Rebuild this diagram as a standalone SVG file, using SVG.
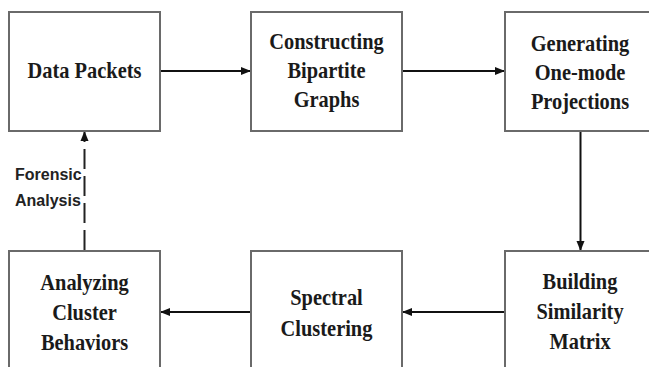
<svg xmlns="http://www.w3.org/2000/svg" width="649" height="367" viewBox="0 0 649 367">
<defs>
<style>
.box{fill:#fff;stroke:#6a6a6a;stroke-width:2}
.lbl{font-weight:bold;font-size:24px;fill:#1a1a1a;text-anchor:middle}
.conn{stroke:#111;stroke-width:2;fill:none}
.dash{stroke:#222;stroke-width:2;fill:none;stroke-dasharray:20,7}
.side{font-weight:bold;font-size:16px;fill:#222}
</style>
<marker id="ah" markerWidth="10" markerHeight="10" refX="9" refY="5" orient="auto" markerUnits="userSpaceOnUse">
<path d="M0,1 L10,5 L0,9 Z" fill="#111"/>
</marker>
</defs>
<rect width="649" height="367" fill="#fff"/>
<g id="connectors">
<line class="conn" x1="161" y1="71" x2="250" y2="71" marker-end="url(#ah)"/>
<line class="conn" x1="403" y1="71" x2="504" y2="71" marker-end="url(#ah)"/>
<line class="conn" x1="580.5" y1="132" x2="580.5" y2="250" marker-end="url(#ah)"/>
<line class="conn" x1="504" y1="312" x2="403" y2="312" marker-end="url(#ah)"/>
<line class="conn" x1="250" y1="312" x2="161" y2="312" marker-end="url(#ah)"/>
<line class="dash" x1="84.5" y1="250" x2="84.5" y2="132" marker-end="url(#ah)"/>
</g>
<g id="forensic-label" font-family="Liberation Sans">
<text class="side" x="15" y="180">Forensic</text>
<text class="side" x="15" y="206">Analysis</text>
</g>
<g id="nodes" font-family="Liberation Serif">
<g id="data-packets">
<rect class="box" x="9" y="12" width="151" height="119"/>
<text class="lbl" transform="translate(84.5,78) scale(0.85,1)">Data Packets</text>
</g>
<g id="constructing-bipartite">
<rect class="box" x="251" y="12" width="151" height="119"/>
<text class="lbl" transform="translate(326.5,49) scale(0.85,1)">Constructing</text>
<text class="lbl" transform="translate(326.5,78) scale(0.85,1)">Bipartite</text>
<text class="lbl" transform="translate(326.5,107) scale(0.85,1)">Graphs</text>
</g>
<g id="generating-projections">
<rect class="box" x="505" y="12" width="152" height="119"/>
<text class="lbl" transform="translate(580,51) scale(0.85,1)">Generating</text>
<text class="lbl" transform="translate(580,80) scale(0.85,1)">One-mode</text>
<text class="lbl" transform="translate(580,109) scale(0.85,1)">Projections</text>
</g>
<g id="building-similarity">
<rect class="box" x="505" y="251" width="152" height="122"/>
<text class="lbl" transform="translate(580,289) scale(0.85,1)">Building</text>
<text class="lbl" transform="translate(580,319) scale(0.85,1)">Similarity</text>
<text class="lbl" transform="translate(580,349) scale(0.85,1)">Matrix</text>
</g>
<g id="spectral-clustering">
<rect class="box" x="251" y="251" width="151" height="122"/>
<text class="lbl" transform="translate(326.5,305) scale(0.85,1)">Spectral</text>
<text class="lbl" transform="translate(326.5,336) scale(0.85,1)">Clustering</text>
</g>
<g id="analyzing-cluster">
<rect class="box" x="9" y="251" width="151" height="122"/>
<text class="lbl" transform="translate(84.5,290) scale(0.85,1)">Analyzing</text>
<text class="lbl" transform="translate(84.5,320) scale(0.85,1)">Cluster</text>
<text class="lbl" transform="translate(84.5,350) scale(0.85,1)">Behaviors</text>
</g>
</g>
</svg>
